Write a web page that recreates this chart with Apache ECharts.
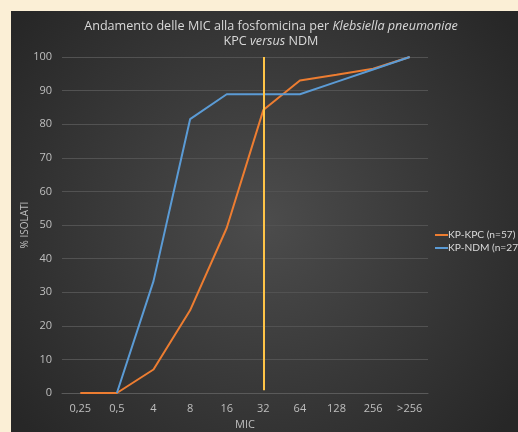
<!DOCTYPE html>
<html>
<head>
<meta charset="utf-8">
<script src="https://cdn.jsdelivr.net/npm/echarts@6/dist/echarts.min.js"></script>
<style>
html,body{margin:0;padding:0;width:518px;height:432px;overflow:hidden;background:#FBEFD6;}
#c{position:absolute;left:11px;top:11px;width:507px;height:421px;}
</style>
</head>
<body>
<div id="c"></div>
<script>
var categories = ['0,25','0,5','4','8','16','32','64','128','256','>256'];
var kpcValues = [0, 0, 7.0, 24.6, 49.1, 84.2, 93.0, 94.7, 96.5, 100];
var ndmValues = [null, 0, 33.3, 81.5, 88.9, 88.9, 88.9, 92.6, 96.3, 100];
var kpcName = 'KP-KPC (n=57)';
var ndmName = 'KP-NDM (n=27)';
var breakpointCategory = '32';
var yTicks = {min: 0, max: 100, interval: 10};

var chart = echarts.init(document.getElementById('c'));
var font = 'Open Sans';
chart.setOption({
  backgroundColor: {
    type: 'radial', x: 0.5, y: 0.5, r: 0.75,
    colorStops: [{offset: 0, color: '#4c4c4c'}, {offset: 1, color: '#272727'}]
  },
  animation: false,
  title: {
    text: '{n|Andamento delle MIC alla fosfomicina per }{i|Klebsiella pneumoniae}\n{n|KPC }{i|versus}{n| NDM}',
    left: 255, top: 3, textAlign: 'center',
    textStyle: {
      fontFamily: font, fontSize: 12.6, fontWeight: 'normal', color: '#d9d9d9', lineHeight: 15,
      rich: {
        n: {fontFamily: font, fontSize: 12.6, fontWeight: 'normal', color: '#d9d9d9', lineHeight: 15},
        i: {fontFamily: font, fontSize: 12.6, fontWeight: 'normal', color: '#d9d9d9', fontStyle: 'italic', lineHeight: 15}
      }
    }
  },
  legend: {
    orient: 'vertical', left: 419, top: 214, itemGap: 3,
    itemWidth: 13, itemHeight: 2, icon: 'rect',
    textStyle: {fontFamily: 'Lato', fontSize: 10.2, color: '#d9d9d9', padding: [0,0,0,-5]},
    data: [kpcName, ndmName]
  },
  grid: {left: 51, right: 90, top: 46, bottom: 39, outerBoundsMode: 'none', containLabel: false},
  xAxis: {
    type: 'category', data: categories, boundaryGap: true,
    name: 'MIC', nameLocation: 'middle', nameGap: 26,
    nameTextStyle: {fontFamily: font, fontSize: 11, color: '#bfbfbf'},
    axisLine: {lineStyle: {color: '#5a5a5a', width: 1}},
    axisTick: {show: false},
    axisLabel: {fontFamily: font, fontSize: 11, color: '#bfbfbf', margin: 10}
  },
  yAxis: {
    type: 'value', min: yTicks.min, max: yTicks.max, interval: yTicks.interval,
    name: '% ISOLATI', nameLocation: 'middle', nameGap: 32, nameRotate: 90, nameMoveOverlap: false,
    nameTextStyle: {fontFamily: font, fontSize: 10, color: '#bfbfbf'},
    axisLine: {show: false}, axisTick: {show: false},
    axisLabel: {fontFamily: font, fontSize: 11, color: '#bfbfbf', margin: 10},
    splitLine: {lineStyle: {color: '#525252', width: 1}}
  },
  series: [
    {
      name: kpcName, type: 'line', data: kpcValues, showSymbol: false, symbol: 'none',
      lineStyle: {color: '#ED7D31', width: 2}, itemStyle: {color: '#ED7D31'}
    },
    {
      name: ndmName, type: 'line', data: ndmValues, showSymbol: false, symbol: 'none',
      lineStyle: {color: '#5B9BD5', width: 2}, itemStyle: {color: '#5B9BD5'},
      markLine: {
        silent: true, symbol: 'none', label: {show: false},
        lineStyle: {color: '#FFC447', width: 2, type: 'solid'},
        data: [[{coord: [breakpointCategory, yTicks.max]}, {coord: [breakpointCategory, 0.8]}]]
      }
    }
  ]
});
</script>
</body>
</html>
